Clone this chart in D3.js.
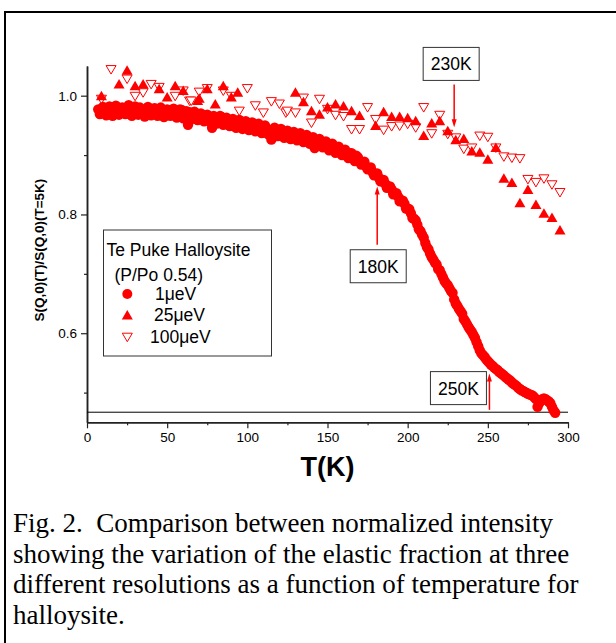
<!DOCTYPE html>
<html>
<head>
<meta charset="utf-8">
<script src="https://cdn.jsdelivr.net/npm/d3@7"></script>
<style>
  body { margin: 0; background: #fff; }
  svg { display: block; }
</style>
</head>
<body>
<div id="chart"></div>
<script>
// 1 ueV resolution (filled circles) [T(K), S(T)/S(5K)]
const res1 = [
  [7,0.977],[8,0.969],[9,0.972],[10,0.981],[11,0.979],[12,0.967],[13,0.974],[14,0.982],[15,0.970],[16,0.966],
  [17,0.978],[18,0.983],[19,0.975],[20,0.968],[21,0.972],[22,0.980],[23,0.979],[24,0.969],[25,0.976],[26,0.984],
  [27,0.971],[28,0.966],[29,0.977],[30,0.982],[31,0.974],[32,0.968],[33,0.980],[34,0.975],[35,0.973],[36,0.965],
  [37,0.976],[38,0.981],[39,0.970],[40,0.967],[41,0.975],[42,0.979],[43,0.978],[44,0.966],[45,0.972],[46,0.980],
  [47,0.976],[48,0.964],[49,0.971],[50,0.977],[51,0.975],[52,0.966],[53,0.969],[54,0.978],[55,0.974],[56,0.963],
  [57,0.970],[58,0.977],[59,0.976],[60,0.962],[61,0.968],[62,0.974],[63,0.951],[64,0.972],[65,0.960],[66,0.966],
  [67,0.973],[68,0.970],[69,0.959],[70,0.963],[71,0.970],[72,0.967],[73,0.957],[74,0.960],[75,0.968],[76,0.965],
  [77,0.955],[78,0.946],[79,0.966],[80,0.962],[81,0.953],[82,0.958],[83,0.966],[84,0.964],[85,0.951],[86,0.955],
  [87,0.963],[88,0.960],[89,0.949],[90,0.953],[91,0.961],[92,0.958],[93,0.946],[94,0.950],[95,0.959],[96,0.955],
  [97,0.944],[98,0.948],[99,0.957],[100,0.953],[101,0.942],[102,0.946],[103,0.955],[104,0.951],[105,0.940],[106,0.944],
  [107,0.953],[108,0.949],[109,0.937],[110,0.940],[111,0.950],[112,0.945],[113,0.935],[114,0.941],[115,0.926],[116,0.937],
  [117,0.946],[118,0.942],[119,0.932],[120,0.936],[121,0.944],[122,0.940],[123,0.929],[124,0.933],[125,0.941],[126,0.938],
  [127,0.927],[128,0.931],[129,0.939],[130,0.935],[131,0.925],[132,0.928],[133,0.937],[134,0.933],[135,0.922],[136,0.926],
  [137,0.934],[138,0.930],[139,0.919],[140,0.922],[141,0.930],[142,0.912],[143,0.917],[144,0.924],[145,0.927],[146,0.918],
  [147,0.913],[148,0.921],[149,0.923],[150,0.913],[151,0.908],[152,0.917],[153,0.919],[154,0.909],[155,0.904],[156,0.913],
  [157,0.914],[158,0.905],[159,0.900],[160,0.908],[161,0.909],[162,0.900],[163,0.895],[164,0.903],[165,0.903],[166,0.896],
  [167,0.890],[168,0.899],[169,0.896],[170,0.890],[171,0.884],[172,0.886],[173,0.889],[174,0.881],[175,0.876],[176,0.877],
  [177,0.879],[178,0.872],[179,0.866],[180,0.867],[181,0.869],[182,0.862],[183,0.856],[184,0.856],[185,0.858],[186,0.852],
  [187,0.845],[188,0.846],[189,0.847],[190,0.842],[191,0.834],[192,0.836],[193,0.836],[194,0.830],[195,0.822],[196,0.824],
  [197,0.823],[198,0.818],[199,0.810],[200,0.810],[201,0.809],[202,0.802],[203,0.794],[204,0.793],[205,0.790],[206,0.783],
  [207,0.775],[208,0.772],[209,0.766],[210,0.761],[211,0.752],[212,0.745],[213,0.741],[214,0.734],[215,0.728],[216,0.724],
  [217,0.719],[218,0.716],[219,0.708],[220,0.706],[221,0.700],[222,0.694],[223,0.688],[224,0.684],[225,0.681],[226,0.676],
  [227,0.671],[228,0.668],[229,0.657],[230,0.650],[231,0.646],[232,0.641],[233,0.637],[234,0.633],[235,0.624],[236,0.620],
  [237,0.615],[238,0.610],[239,0.606],[240,0.602],[241,0.597],[242,0.592],[243,0.585],[244,0.578],[245,0.571],[246,0.566],
  [247,0.563],[248,0.560],[249,0.556],[250,0.553],[251,0.550],[252,0.547],[253,0.545],[254,0.542],[255,0.540],[256,0.538],
  [257,0.535],[258,0.533],[259,0.531],[260,0.529],[261,0.526],[262,0.524],[263,0.522],[264,0.520],[265,0.517],[266,0.515],
  [267,0.513],[268,0.511],[269,0.508],[270,0.506],[271,0.504],[272,0.503],[273,0.501],[274,0.500],[275,0.498],[276,0.497],
  [277,0.496],[278,0.495],[279,0.492],[280,0.489],[281,0.476],[282,0.482],[283,0.486],[284,0.489],[285,0.490],[286,0.489],
  [287,0.487],[288,0.485],[289,0.482],[290,0.476],[291,0.470],[292,0.466]
];

// 25 ueV resolution (filled up triangles)
const res25 = [
  [9,0.999],[20,1.019],[25,1.042],[30,1.016],[35,1.019],[45,1.011],[50,0.997],[55,1.016],
  [60,1.008],[69,0.991],[70,0.995],[75,1.011],[80,0.985],[85,1.016],[90,0.997],[94,1.005],
  [130,1.005],[135,0.989],[140,0.974],[145,0.968],[150,0.980],[155,0.985],[160,0.982],[165,0.974],
  [170,0.966],[180,0.949],[185,0.972],[190,0.964],[195,0.964],[200,0.962],[205,0.957],[210,0.932],
  [215,0.953],[220,0.957],[225,0.940],[230,0.925],[235,0.927],[240,0.906],[245,0.904],[250,0.892],
  [255,0.912],[260,0.860],[265,0.853],[270,0.819],[275,0.841],[280,0.816],[285,0.801],[290,0.794],
  [295,0.773]
];

// 100 ueV resolution (open down triangles)
const res100 = [
  [9,0.994],[15,1.044],[25,1.028],[30,0.999],[35,1.005],[40,1.019],[45,1.014],[55,0.999],
  [60,1.008],[64,0.991],[65,0.991],[70,1.006],[75,1.012],[85,1.008],[90,0.999],[95,0.974],
  [100,1.012],[105,0.983],[110,0.971],[115,0.990],[120,0.986],[124,0.971],[125,0.974],[130,0.971],
  [135,0.996],[140,0.954],[145,0.994],[150,0.977],[155,0.967],[160,0.965],[165,0.943],[170,0.943],
  [175,0.980],[180,0.960],[185,0.942],[190,0.948],[195,0.949],[200,0.952],[205,0.946],[210,0.980],
  [215,0.936],[220,0.967],[225,0.935],[230,0.929],[235,0.910],[240,0.912],[245,0.932],[250,0.930],
  [255,0.912],[260,0.897],[265,0.895],[270,0.894],[275,0.859],[280,0.854],[285,0.860],[290,0.850],
  [295,0.837]
];

const xMajor = [0, 50, 100, 150, 200, 250, 300];
const xMinor = [25, 75, 125, 175, 225, 275];
const yMajor = [0.6, 0.8, 1.0];
const yMinor = [0.5, 0.7, 0.9];
const baseLevel = 0.467;

// arrows: label, temperature, arrow tail value, arrow head value
const annoLabels = ["230K", "180K", "250K"];
const annoT = [229, 181, 251];
const annoFrom = [1.019, 0.749, 0.471];
const annoTo = [0.947, 0.847, 0.532];

const legendTitle = ["Te Puke Halloysite", "(P/Po 0.54)"];
const legendNames = ["1\u03BCeV", "25\u03BCeV", "100\u03BCeV"];

const caption = [
  "Fig. 2.  Comparison between normalized intensity",
  "showing the variation of the elastic fraction at three",
  "different resolutions as a function of temperature for",
  "halloysite."
];

const W = 616, H = 643;
const red = "#ff0000";

const svg = d3.select("#chart").append("svg")
  .attr("width", W).attr("height", H);

// frame lines
svg.append("line").attr("x1", 4).attr("x2", W).attr("y1", 12).attr("y2", 12)
  .attr("stroke", "#000").attr("stroke-width", 2);
svg.append("line").attr("x1", 5).attr("x2", 5).attr("y1", 11).attr("y2", H)
  .attr("stroke", "#000").attr("stroke-width", 2);

const x = d3.scaleLinear().domain([0, 300]).range([87, 568]);
const y = d3.scaleLinear().domain([0.45, 1.05]).range([422.3, 66]);

const axisFont = "Arial, 'Liberation Sans', sans-serif";

function styleAxis(g) {
  g.select(".domain").attr("stroke", "#222").attr("stroke-width", 1.5);
  g.selectAll(".tick line").attr("stroke", "#222").attr("stroke-width", 1.2);
  g.selectAll(".tick text").attr("fill", "#000")
    .style("font-family", axisFont).style("font-size", "13.5px");
}

// x axis
svg.append("g")
  .attr("transform", `translate(0,${y.range()[0]})`)
  .call(d3.axisBottom(x).tickValues(xMinor).tickSize(3).tickSizeOuter(0).tickFormat(""))
  .call(styleAxis);
svg.append("g")
  .attr("transform", `translate(0,${y.range()[0]})`)
  .call(d3.axisBottom(x).tickValues(xMajor).tickSize(6).tickSizeOuter(0).tickPadding(4))
  .call(styleAxis);

// y axis
svg.append("g")
  .attr("transform", `translate(${x.range()[0]},0)`)
  .call(d3.axisLeft(y).tickValues(yMinor).tickSize(3).tickSizeOuter(0).tickFormat(""))
  .call(styleAxis);
svg.append("g")
  .attr("transform", `translate(${x.range()[0]},0)`)
  .call(d3.axisLeft(y).tickValues(yMajor).tickSize(6).tickSizeOuter(0).tickPadding(4)
    .tickFormat(d3.format(".1f")))
  .call(styleAxis);

// base line
svg.append("line")
  .attr("x1", x(0)).attr("x2", x(300))
  .attr("y1", y(baseLevel)).attr("y2", y(baseLevel))
  .attr("stroke", "#000").attr("stroke-width", 1);

// axis titles
svg.append("text")
  .attr("x", d3.mean(x.range())).attr("y", 476)
  .attr("text-anchor", "middle")
  .style("font-family", axisFont).style("font-weight", "bold").style("font-size", "27px")
  .text("T(K)");

svg.append("text")
  .attr("transform", `translate(44,${d3.mean(y.range()) + 6}) rotate(-90)`)
  .attr("text-anchor", "middle")
  .style("font-family", axisFont).style("font-weight", "bold").style("font-size", "13.5px")
  .text("S(Q,0)(T)/S(Q,0)(T=5K)");

// markers
const upTri = "M0,-5.5L5.5,4L-5.5,4Z";
const downTri = "M-5,-4L5,-4L0,4.5Z";

const plot = svg.append("g");

plot.selectAll(".p100").data(res100).join("path")
  .attr("class", "p100")
  .attr("transform", d => `translate(${x(d[0])},${y(d[1])})`)
  .attr("d", downTri)
  .attr("fill", "#fff").attr("stroke", red).attr("stroke-width", 1);

plot.selectAll(".p25").data(res25).join("path")
  .attr("class", "p25")
  .attr("transform", d => `translate(${x(d[0])},${y(d[1])})`)
  .attr("d", upTri)
  .attr("fill", red);

plot.selectAll(".p1").data(res1).join("circle")
  .attr("class", "p1")
  .attr("cx", d => x(d[0])).attr("cy", d => y(d[1]))
  .attr("r", 5.2)
  .attr("fill", red);

// annotations
const annoGroup = svg.append("g");
annoLabels.forEach((lab, i) => {
  const ax = x(annoT[i]);
  const y0 = y(annoFrom[i]), y1 = y(annoTo[i]);
  const dir = y1 > y0 ? 1 : -1;
  annoGroup.append("line")
    .attr("x1", ax).attr("x2", ax)
    .attr("y1", y0).attr("y2", y1 - dir * 6)
    .attr("stroke", red).attr("stroke-width", 1.5);
  annoGroup.append("path")
    .attr("d", `M${ax},${y1}L${ax - 2.5},${y1 - dir * 8}L${ax + 2.5},${y1 - dir * 8}Z`)
    .attr("fill", red);

  // label box placement relative to the arrow tail
  let bx, by;
  const bw = 56, bh = 33;
  if (i === 0) { bx = ax - 31; by = y0 - 4 - bh; }
  else if (i === 1) { bx = ax - 27; by = y0 + 5; }
  else { bx = ax - 59; by = y1 - 2; }
  annoGroup.append("rect")
    .attr("x", bx).attr("y", by).attr("width", bw).attr("height", bh)
    .attr("fill", "#fff").attr("stroke", "#333").attr("stroke-width", 1);
  annoGroup.append("text")
    .attr("x", bx + bw / 2).attr("y", by + bh / 2 + 6.5)
    .attr("text-anchor", "middle")
    .style("font-family", axisFont).style("font-size", "17.5px")
    .text(lab);
});

// legend
const lg = svg.append("g");
lg.append("rect")
  .attr("x", 103.5).attr("y", 230).attr("width", 168).attr("height", 126)
  .attr("fill", "#fff").attr("stroke", "#333").attr("stroke-width", 1);
lg.append("text").attr("x", 106.5).attr("y", 256)
  .style("font-family", axisFont).style("font-size", "17.5px").text(legendTitle[0]);
lg.append("text").attr("x", 114.5).attr("y", 281)
  .style("font-family", axisFont).style("font-size", "17.5px").text(legendTitle[1]);

const legendSym = [
  g => g.append("circle").attr("r", 5).attr("fill", red),
  g => g.append("path").attr("d", upTri).attr("fill", red),
  g => g.append("path").attr("d", downTri).attr("fill", "#fff").attr("stroke", red).attr("stroke-width", 1)
];
const legendTextX = [155, 154, 150];
legendNames.forEach((name, i) => {
  const row = lg.append("g").attr("transform", `translate(127.3,${294 + i * 21.6})`);
  legendSym[i](row);
  lg.append("text")
    .attr("x", legendTextX[i]).attr("y", 300 + i * 21.4)
    .style("font-family", axisFont).style("font-size", "17.5px")
    .text(name);
});

// caption
svg.append("g").selectAll("text").data(caption).join("text")
  .attr("x", 13)
  .attr("y", (d, i) => 532 + i * 30.5)
  .style("font-family", "'Times New Roman', 'Liberation Serif', serif")
  .style("font-size", "27px")
  .style("white-space", "pre")
  .text(d => d);
</script>
</body>
</html>
